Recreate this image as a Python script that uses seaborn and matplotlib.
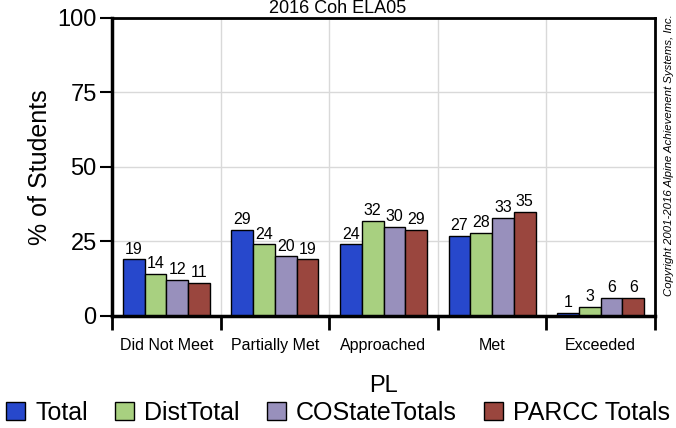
import pandas as pd
import matplotlib.pyplot as plt
import seaborn as sns

# Chart data
levels = ["Did Not Meet", "Partially Met", "Approached", "Met", "Exceeded"]
groups = ["Total", "DistTotal", "COStateTotals", "PARCC Totals"]
total = [19, 29, 24, 27, 1]
dist_total = [14, 24, 32, 28, 3]
co_state = [12, 20, 30, 33, 6]
parcc = [11, 19, 29, 35, 6]
colors = ["#2748cc", "#a8d080", "#9890bc", "#9a463e"]

rows = []
for grp, vals in zip(groups, [total, dist_total, co_state, parcc]):
    for lvl, v in zip(levels, vals):
        rows.append({"PL": lvl, "Group": grp, "Pct": v})
df = pd.DataFrame(rows)

sns.set_style("white")
plt.rcParams["font.family"] = ["Liberation Sans", "DejaVu Sans"]
plt.rcParams["text.color"] = "black"
plt.rcParams["axes.labelcolor"] = "black"
plt.rcParams["xtick.color"] = "black"
plt.rcParams["ytick.color"] = "black"

fig = plt.figure(figsize=(6.76, 4.28), dpi=100)
ax = fig.add_axes([0.1657, 0.2617, 0.8033, 0.6963])

sns.barplot(
    data=df, x="PL", y="Pct", hue="Group", order=levels, hue_order=groups,
    palette=colors, saturation=1, edgecolor="black", linewidth=1,
    width=0.8, ax=ax, legend=False,
)

for cont in ax.containers:
    ax.bar_label(cont, fontsize=11.5, padding=2)

ax.set_ylim(0, 100)
ax.set_xlim(-0.5, len(levels) - 0.5)
ax.set_yticks([0, 25, 50, 75, 100])
ax.tick_params(axis="y", labelsize=17, length=9, width=1.5, direction="out", left=True, pad=2)
ax.set_xticks(range(len(levels)))
ax.set_xticks([i - 0.5 for i in range(len(levels) + 1)], minor=True)
ax.tick_params(axis="x", which="major", length=0, labelsize=11.5, pad=16)
ax.tick_params(axis="x", which="minor", length=10, width=2, direction="out", bottom=True)
ax.grid(True, which="minor", axis="x", color="#d9d9d9", lw=1)
ax.grid(True, which="major", axis="y", color="#d9d9d9", lw=1)
ax.set_axisbelow(True)
for side in ["left", "bottom"]:
    ax.spines[side].set_linewidth(2.5)
for side in ["top", "right"]:
    ax.spines[side].set_linewidth(2)
for sp in ax.spines.values():
    sp.set_color("black")

ax.set_xlabel("PL", fontsize=17, labelpad=16)
ax.set_ylabel("% of Students", fontsize=18, labelpad=4)

fig.text(0.5, 0.999, "2016 Coh ELA05", ha="center", va="top", fontsize=13)
fig.text(0.99, 0.638, "Copyright 2001-2016 Alpine Achievement Systems, Inc.",
         rotation=90, ha="center", va="center", fontsize=8.2, style="italic")

handles = [plt.Rectangle((0, 0), 1, 1, facecolor=c, edgecolor="black", lw=1) for c in colors]
fig.legend(handles, groups, loc="center", bbox_to_anchor=(0.5, 0.035), ncol=4,
           frameon=False, fontsize=18, handlelength=0.75, handleheight=0.75,
           handletextpad=0.4, columnspacing=1.1, borderaxespad=0)

fig.savefig("out.png", dpi=100)
